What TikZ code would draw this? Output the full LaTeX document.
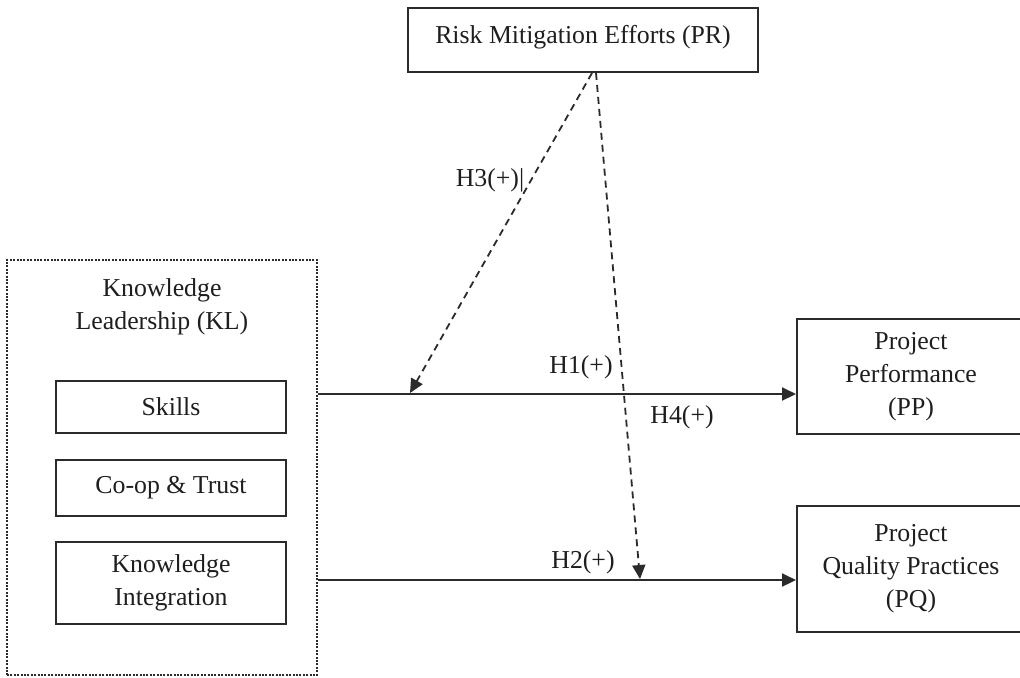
\documentclass[tikz,border=0pt]{standalone}
\usepackage{fontspec}
\setmainfont{Liberation Serif}
\usepackage{xcolor}
\usetikzlibrary{arrows.meta,calc,positioning}
\definecolor{LineDark}{HTML}{2B2B2B}
\definecolor{TextDark}{HTML}{1E1E1E}
\tikzset{
    blockbox/.style={
        draw=LineDark,
        line width=1pt,
        text=TextDark,
        align=center,
        inner sep=0pt
    },
    framebox/.style={
        draw=LineDark,
        line width=0.7pt,
        dash pattern=on 1pt off 0.7pt
    },
    hlabel/.style={text=TextDark, inner sep=0pt},
    mainarrow/.style={draw=LineDark, line width=1pt, -{Triangle[length=7pt,width=6.5pt]}},
    modarrow/.style={draw=LineDark, line width=0.9pt, dash pattern=on 3.5pt off 2.5pt,
        -{Triangle[length=7pt,width=6.5pt]}}
}

\begin{document}
\begin{tikzpicture}[x=0.5pt, y=-0.5pt, font=\fontsize{12.9}{16.5}\selectfont]
    \useasboundingbox (0,0) rectangle (1020,677);

    % moderator
    \node[blockbox, minimum width=175pt, minimum height=32pt, text depth=6pt] (PR) at (583,40)
        {Risk Mitigation Efforts (PR)};

    % knowledge leadership frame
    \node[framebox, minimum width=155pt, minimum height=207.5pt] (KL) at (162,467.5) {};
    \node[hlabel, align=center, below=9.5pt of KL.north] (kltitle)
        {Knowledge\\Leadership (KL)};
    \node[blockbox, minimum width=115pt, minimum height=26pt] (skills) at (171,407) {Skills};
    \node[blockbox, minimum width=115pt, minimum height=28pt] (coop) at (171,488) {Co-op \& Trust};
    \node[blockbox, minimum width=115pt, minimum height=41pt] (kint) at (171,583)
        {Knowledge\\Integration};

    % outcomes
    \node[blockbox, minimum width=114pt, minimum height=57.5pt] (PP) at (911,376.5)
        {Project\\Performance\\(PP)};
    \node[blockbox, minimum width=114pt, minimum height=63pt] (PQ) at (911,569)
        {Project\\Quality Practices\\(PQ)};

    % direct paths
    \draw[mainarrow] (KL.east |- 0,394) -- (PP.west |- 0,394);
    \draw[mainarrow] (KL.east |- 0,580) -- (PQ.west |- 0,580);

    % moderating paths
    \coordinate (h3tip) at (410,393);
    \coordinate (h4tip) at (640,579);
    \draw[modarrow] ($(PR.south)+(9,0)$) -- (h3tip);
    \draw[modarrow] ($(PR.south)+(13,0)$) -- (h4tip);

    \node[hlabel] (h1) at (581,367) {H1(+)};
    \node[hlabel] (h2) at (583,562) {H2(+)};
    \node[hlabel] (h3) at (490,180) {H3(+)|};
    \node[hlabel] (h4) at (682,417) {H4(+)};
\end{tikzpicture}
\end{document}
